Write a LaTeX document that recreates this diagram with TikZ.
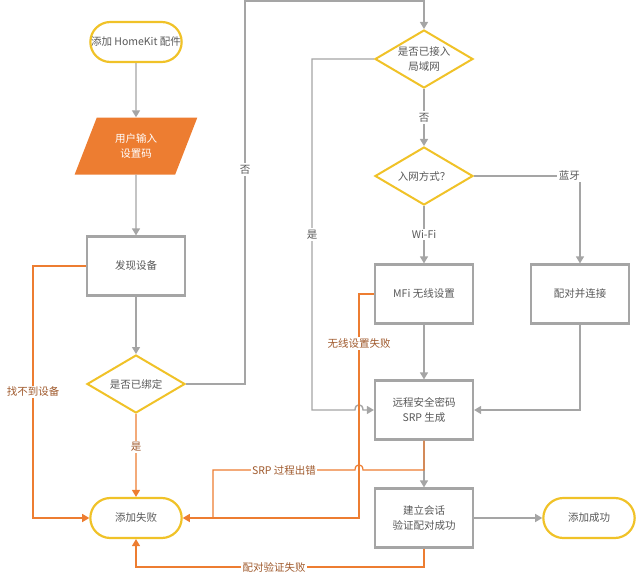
\documentclass[tikz,border=0pt]{standalone}
\usepackage{fontspec}
\setmainfont{Noto Sans CJK SC}
\usetikzlibrary{shapes.geometric,shapes.misc,arrows.meta}

\definecolor{lgray}{RGB}{165,165,165}
\definecolor{tgray}{RGB}{89,89,89}
\definecolor{gold}{RGB}{240,194,40}
\definecolor{orng}{RGB}{237,125,49}
\definecolor{brwn}{RGB}{160,90,45}

\begin{document}
\begin{tikzpicture}[x=1pt,y=-1pt,
  font=\fontsize{10.5}{14.5}\selectfont, text=tgray,
  term/.style={rounded rectangle, draw=gold, line width=2.2pt, minimum width=98pt, minimum height=40pt, fill=white},
  io/.style={trapezium, trapezium left angle=66, trapezium right angle=114, trapezium stretches=true,
             fill=orng, text=white, minimum width=123pt, minimum height=57pt, align=center},
  proc/.style={rectangle, draw=lgray, line width=2.2pt, minimum width=98pt, minimum height=59pt, align=center, fill=white},
  decide/.style={diamond, aspect=1.7, draw=gold, line width=2pt, minimum width=98pt, minimum height=58pt,
                 inner sep=0pt, align=center, fill=white},
  gline/.style={draw=lgray, line width=1.4pt},
  garrow/.style={gline, -{Triangle[width=8pt,length=7pt]}},
  oline/.style={draw=orng, line width=1.2pt},
  oarrow/.style={oline, -{Triangle[width=8pt,length=7pt]}},
  glbl/.style={fill=white, inner sep=1.5pt, text=tgray},
  olbl/.style={fill=white, inner sep=1.5pt, text=brwn}]
\useasboundingbox (0,0) rectangle (640,578);

% nodes
\node[term]   (start) at (136,42)  {添加 HomeKit 配件};
\node[io]     (input) at (136,146) {用户输入\\设置码};
\node[proc]   (find)  at (136,266) {发现设备};
\node[decide] (bound) at (136,384) {是否已绑定};
\node[term]   (fail)  at (136,518) {添加失败};
\node[decide] (lan)   at (424,59)  {是否已接入\\局域网};
\node[decide] (mode)  at (424,176) {入网方式？};
\node[proc]   (mfi)   at (424,294) {MFi 无线设置};
\node[proc]   (pair)  at (580,294) {配对并连接};
\node[proc]   (srp)   at (424,410) {远程安全密码\\SRP 生成};
\node[proc]   (sess)  at (424,518) {建立会话\\验证配对成功};
\node[term]   (ok)    at (589,518) {添加成功};
\coordinate (top) at (424,1);

% gray flow
\draw[garrow] (start) -- (input);
\draw[garrow] (input) -- (find);
\draw[garrow] (find) -- (bound);
\draw[garrow] (bound.east) -- (245,384) |- node[glbl, pos=0.28] {否} (top) -- (lan.north);
\draw[garrow] (lan.west) -- (312,59) -- node[glbl] {是} (312,410) -- (355,410)
  .. controls (355,403) and (363,403) .. (363,410) -- (srp.west);
\draw[garrow] (lan) -- node[glbl] {否} (mode);
\draw[garrow] (mode.east) -| node[glbl, pos=0.45] {蓝牙} (pair.north);
\draw[garrow] (mode) -- node[glbl] {Wi-Fi} (mfi);
\draw[garrow] (mfi) -- (srp);
\draw[garrow] (pair.south) |- (srp.east);
\draw[garrow] (srp) -- (sess);
\draw[garrow] (sess) -- (ok);

% orange failures
\draw[oarrow] (find.west) -- (33,266) |- node[olbl, pos=0.25] {找不到设备} (fail.west);
\draw[oarrow] (bound) -- node[olbl, pos=0.4] {是} (fail);
\draw[oarrow] (mfi.west) -- (359,294) -- node[olbl, pos=0.22] {无线设置失败} (359,518) -- (fail.east);
\draw[oline] (srp.south) -- (424,470) -- (363,470) .. controls (363,463) and (355,463) .. (355,470)
  -- node[olbl, pos=0.5] {SRP 过程出错} (213,470) -- (213,518);
\draw[oarrow] (sess.south) -- (424,567) -| node[olbl, pos=0.26] {配对验证失败} (fail.south);
\end{tikzpicture}
\end{document}
